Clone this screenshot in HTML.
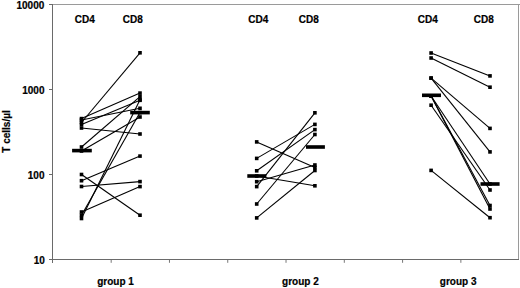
<!DOCTYPE html>
<html><head><meta charset="utf-8"><style>
html,body{margin:0;padding:0;background:#fff;}
body{width:520px;height:288px;overflow:hidden;}
svg{display:block;}
text{font-family:"Liberation Sans",sans-serif;font-weight:bold;font-size:10px;fill:#000;stroke:#000;stroke-width:0.2px;}
</style></head><body>
<svg width="520" height="288" viewBox="0 0 520 288">
<rect width="520" height="288" fill="#fff"/>
<line x1="52" y1="4.5" x2="520" y2="4.5" stroke="#9a9a9a" stroke-width="1"/>
<line x1="518.5" y1="4" x2="518.5" y2="260" stroke="#9a9a9a" stroke-width="1"/>
<line x1="52.5" y1="4" x2="52.5" y2="263" stroke="#6a6a6a" stroke-width="1"/>
<line x1="49" y1="259.5" x2="519" y2="259.5" stroke="#6a6a6a" stroke-width="1"/>
<line x1="49" y1="4.5" x2="52" y2="4.5" stroke="#6a6a6a" stroke-width="1"/>
<line x1="49" y1="89.5" x2="52" y2="89.5" stroke="#6a6a6a" stroke-width="1"/>
<line x1="49" y1="174.5" x2="52" y2="174.5" stroke="#6a6a6a" stroke-width="1"/>
<line x1="111.18" y1="260" x2="111.18" y2="262.8" stroke="#777" stroke-width="1"/>
<line x1="169.46" y1="260" x2="169.46" y2="262.8" stroke="#777" stroke-width="1"/>
<line x1="227.74" y1="260" x2="227.74" y2="262.8" stroke="#777" stroke-width="1"/>
<line x1="286.02" y1="260" x2="286.02" y2="262.8" stroke="#777" stroke-width="1"/>
<line x1="344.3" y1="260" x2="344.3" y2="262.8" stroke="#777" stroke-width="1"/>
<line x1="402.58" y1="260" x2="402.58" y2="262.8" stroke="#777" stroke-width="1"/>
<line x1="460.86" y1="260" x2="460.86" y2="262.8" stroke="#777" stroke-width="1"/>
<line x1="81.5" y1="122.5" x2="140.0" y2="52.8" stroke="#000" stroke-width="1.1"/>
<line x1="81.5" y1="118.6" x2="140.0" y2="93.1" stroke="#000" stroke-width="1.1"/>
<line x1="81.5" y1="124.5" x2="140.0" y2="100.3" stroke="#000" stroke-width="1.1"/>
<line x1="81.5" y1="120.0" x2="140.0" y2="108.3" stroke="#000" stroke-width="1.1"/>
<line x1="81.5" y1="128.0" x2="140.0" y2="134.0" stroke="#000" stroke-width="1.1"/>
<line x1="81.5" y1="147.0" x2="140.0" y2="96.6" stroke="#000" stroke-width="1.1"/>
<line x1="81.5" y1="151.0" x2="140.0" y2="117.0" stroke="#000" stroke-width="1.1"/>
<line x1="81.5" y1="174.5" x2="140.0" y2="215.2" stroke="#000" stroke-width="1.1"/>
<line x1="81.5" y1="180.7" x2="140.0" y2="156.1" stroke="#000" stroke-width="1.1"/>
<line x1="81.5" y1="186.5" x2="140.0" y2="181.6" stroke="#000" stroke-width="1.1"/>
<line x1="81.5" y1="212.0" x2="140.0" y2="186.6" stroke="#000" stroke-width="1.1"/>
<line x1="81.5" y1="215.3" x2="140.0" y2="112.6" stroke="#000" stroke-width="1.1"/>
<line x1="81.5" y1="218.5" x2="140.0" y2="99.7" stroke="#000" stroke-width="1.1"/>
<line x1="256.7" y1="141.9" x2="314.9" y2="167.5" stroke="#000" stroke-width="1.1"/>
<line x1="256.7" y1="158.4" x2="314.9" y2="124.4" stroke="#000" stroke-width="1.1"/>
<line x1="256.7" y1="170.8" x2="314.9" y2="129.6" stroke="#000" stroke-width="1.1"/>
<line x1="256.7" y1="176.0" x2="314.9" y2="185.8" stroke="#000" stroke-width="1.1"/>
<line x1="256.7" y1="181.7" x2="314.9" y2="165.0" stroke="#000" stroke-width="1.1"/>
<line x1="256.7" y1="186.6" x2="314.9" y2="112.8" stroke="#000" stroke-width="1.1"/>
<line x1="256.7" y1="204.0" x2="314.9" y2="134.5" stroke="#000" stroke-width="1.1"/>
<line x1="256.7" y1="217.9" x2="314.9" y2="170.5" stroke="#000" stroke-width="1.1"/>
<line x1="431.1" y1="53.0" x2="490.0" y2="75.9" stroke="#000" stroke-width="1.1"/>
<line x1="431.1" y1="58.0" x2="490.0" y2="87.2" stroke="#000" stroke-width="1.1"/>
<line x1="431.1" y1="78.1" x2="490.0" y2="128.4" stroke="#000" stroke-width="1.1"/>
<line x1="431.1" y1="78.1" x2="490.0" y2="151.9" stroke="#000" stroke-width="1.1"/>
<line x1="431.1" y1="96.0" x2="490.0" y2="184.0" stroke="#000" stroke-width="1.1"/>
<line x1="431.1" y1="96.0" x2="490.0" y2="205.5" stroke="#000" stroke-width="1.1"/>
<line x1="431.1" y1="96.0" x2="490.0" y2="209.0" stroke="#000" stroke-width="1.1"/>
<line x1="431.1" y1="105.2" x2="490.0" y2="190.0" stroke="#000" stroke-width="1.1"/>
<line x1="431.1" y1="170.4" x2="490.0" y2="217.7" stroke="#000" stroke-width="1.1"/>
<rect x="79.70" y="120.70" width="3.6" height="3.6" fill="#000"/>
<rect x="138.20" y="51.00" width="3.6" height="3.6" fill="#000"/>
<rect x="79.70" y="116.80" width="3.6" height="3.6" fill="#000"/>
<rect x="138.20" y="91.30" width="3.6" height="3.6" fill="#000"/>
<rect x="79.70" y="122.70" width="3.6" height="3.6" fill="#000"/>
<rect x="138.20" y="98.50" width="3.6" height="3.6" fill="#000"/>
<rect x="79.70" y="118.20" width="3.6" height="3.6" fill="#000"/>
<rect x="138.20" y="106.50" width="3.6" height="3.6" fill="#000"/>
<rect x="79.70" y="126.20" width="3.6" height="3.6" fill="#000"/>
<rect x="138.20" y="132.20" width="3.6" height="3.6" fill="#000"/>
<rect x="79.70" y="145.20" width="3.6" height="3.6" fill="#000"/>
<rect x="138.20" y="94.80" width="3.6" height="3.6" fill="#000"/>
<rect x="79.70" y="149.20" width="3.6" height="3.6" fill="#000"/>
<rect x="138.20" y="115.20" width="3.6" height="3.6" fill="#000"/>
<rect x="79.70" y="172.70" width="3.6" height="3.6" fill="#000"/>
<rect x="138.20" y="213.40" width="3.6" height="3.6" fill="#000"/>
<rect x="79.70" y="178.90" width="3.6" height="3.6" fill="#000"/>
<rect x="138.20" y="154.30" width="3.6" height="3.6" fill="#000"/>
<rect x="79.70" y="184.70" width="3.6" height="3.6" fill="#000"/>
<rect x="138.20" y="179.80" width="3.6" height="3.6" fill="#000"/>
<rect x="79.70" y="210.20" width="3.6" height="3.6" fill="#000"/>
<rect x="138.20" y="184.80" width="3.6" height="3.6" fill="#000"/>
<rect x="79.70" y="213.50" width="3.6" height="3.6" fill="#000"/>
<rect x="138.20" y="110.80" width="3.6" height="3.6" fill="#000"/>
<rect x="79.70" y="216.70" width="3.6" height="3.6" fill="#000"/>
<rect x="138.20" y="97.90" width="3.6" height="3.6" fill="#000"/>
<rect x="72.1" y="148.80" width="19.70" height="3.6" fill="#000"/>
<rect x="130.2" y="110.80" width="19.60" height="3.6" fill="#000"/>
<rect x="254.90" y="140.10" width="3.6" height="3.6" fill="#000"/>
<rect x="313.10" y="165.70" width="3.6" height="3.6" fill="#000"/>
<rect x="254.90" y="156.60" width="3.6" height="3.6" fill="#000"/>
<rect x="313.10" y="122.60" width="3.6" height="3.6" fill="#000"/>
<rect x="254.90" y="169.00" width="3.6" height="3.6" fill="#000"/>
<rect x="313.10" y="127.80" width="3.6" height="3.6" fill="#000"/>
<rect x="254.90" y="174.20" width="3.6" height="3.6" fill="#000"/>
<rect x="313.10" y="184.00" width="3.6" height="3.6" fill="#000"/>
<rect x="254.90" y="179.90" width="3.6" height="3.6" fill="#000"/>
<rect x="313.10" y="163.20" width="3.6" height="3.6" fill="#000"/>
<rect x="254.90" y="184.80" width="3.6" height="3.6" fill="#000"/>
<rect x="313.10" y="111.00" width="3.6" height="3.6" fill="#000"/>
<rect x="254.90" y="202.20" width="3.6" height="3.6" fill="#000"/>
<rect x="313.10" y="132.70" width="3.6" height="3.6" fill="#000"/>
<rect x="254.90" y="216.10" width="3.6" height="3.6" fill="#000"/>
<rect x="313.10" y="168.70" width="3.6" height="3.6" fill="#000"/>
<rect x="247.3" y="174.20" width="19.10" height="3.6" fill="#000"/>
<rect x="306.0" y="145.20" width="18.90" height="3.6" fill="#000"/>
<rect x="429.30" y="51.20" width="3.6" height="3.6" fill="#000"/>
<rect x="488.20" y="74.10" width="3.6" height="3.6" fill="#000"/>
<rect x="429.30" y="56.20" width="3.6" height="3.6" fill="#000"/>
<rect x="488.20" y="85.40" width="3.6" height="3.6" fill="#000"/>
<rect x="429.30" y="76.30" width="3.6" height="3.6" fill="#000"/>
<rect x="488.20" y="126.60" width="3.6" height="3.6" fill="#000"/>
<rect x="429.30" y="76.30" width="3.6" height="3.6" fill="#000"/>
<rect x="488.20" y="150.10" width="3.6" height="3.6" fill="#000"/>
<rect x="429.30" y="94.20" width="3.6" height="3.6" fill="#000"/>
<rect x="488.20" y="182.20" width="3.6" height="3.6" fill="#000"/>
<rect x="429.30" y="94.20" width="3.6" height="3.6" fill="#000"/>
<rect x="488.20" y="203.70" width="3.6" height="3.6" fill="#000"/>
<rect x="429.30" y="94.20" width="3.6" height="3.6" fill="#000"/>
<rect x="488.20" y="207.20" width="3.6" height="3.6" fill="#000"/>
<rect x="429.30" y="103.40" width="3.6" height="3.6" fill="#000"/>
<rect x="488.20" y="188.20" width="3.6" height="3.6" fill="#000"/>
<rect x="429.30" y="168.60" width="3.6" height="3.6" fill="#000"/>
<rect x="488.20" y="215.90" width="3.6" height="3.6" fill="#000"/>
<rect x="422.0" y="93.50" width="19.00" height="3.6" fill="#000"/>
<rect x="480.5" y="182.20" width="19.10" height="3.6" fill="#000"/>
<text x="44.3" y="9.0" text-anchor="end">10000</text>
<text x="44.5" y="93.7" text-anchor="end">1000</text>
<text x="44.5" y="178.6" text-anchor="end">100</text>
<text x="44.8" y="263.7" text-anchor="end">10</text>
<text x="74.8" y="23.2" text-anchor="start">CD4</text>
<text x="122.8" y="23.2" text-anchor="start">CD8</text>
<text x="248.3" y="23.2" text-anchor="start">CD4</text>
<text x="298.8" y="23.2" text-anchor="start">CD8</text>
<text x="417.8" y="23.2" text-anchor="start">CD4</text>
<text x="473.7" y="23.2" text-anchor="start">CD8</text>
<text x="97.2" y="285.1" text-anchor="start">group 1</text>
<text x="282.1" y="285.1" text-anchor="start">group 2</text>
<text x="439.8" y="285.1" text-anchor="start">group 3</text>
<text x="0" y="0" transform="translate(9.6,131.5) rotate(-90)" text-anchor="middle">T cells/µl</text>
</svg>
</body></html>
